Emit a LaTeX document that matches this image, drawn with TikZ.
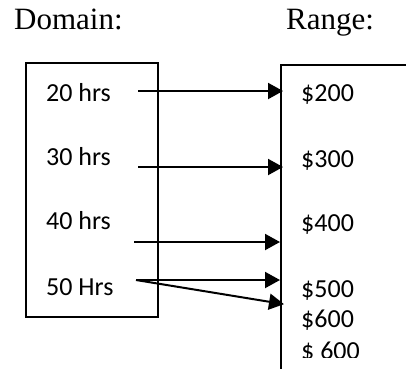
\documentclass[tikz,border=0pt]{standalone}
\usepackage{fontspec}
\setmainfont{Liberation Serif}
\newfontfamily\calib{Carlito}
\usetikzlibrary{arrows.meta}
\begin{document}
\begin{tikzpicture}[x=1pt,y=-1pt,
  head/.style={font=\fontsize{31}{35}\selectfont, anchor=base west, inner sep=0pt},
  item/.style={font=\calib\fontsize{26}{30}\selectfont, anchor=base west, inner sep=0pt},
  box/.style={draw, line width=2pt},
  arr/.style={line width=2pt, -{Triangle[length=15pt,width=16pt]}, shorten >=-1pt}]
\useasboundingbox (0,0) rectangle (406,368);
\clip (0,0) rectangle (406,368);
% headings
\node[head] (dom) at (14,29) {Domain:};
\node[head] (rng) at (286,29) {Range:};
% boxes
\draw[box] (26,63) rectangle (158,317);
\coordinate (rb1) at (281,370);
\coordinate (rb2) at (281,65);
\coordinate (rb3) at (410,65);
\draw[box] (rb1) -- (rb2) -- (rb3);
% domain items
\node[item] (d20) at (46,101) {20 hrs};
\node[item] (d30) at (46,165) {30 hrs};
\node[item] (d40) at (46,229) {40 hrs};
\node[item] (d50) at (46,295) {50 Hrs};
% range items
\node[item] (r200) at (301,101) {\$200};
\node[item] (r300) at (301,167) {\$300};
\node[item] (r400) at (301,231) {\$400};
\node[item] (r500) at (301,297) {\$500};
\node[item] (r600) at (301,327) {\$600};
\begin{scope}
\clip (285,332) rectangle (406,357.5);
\node[item] (r600b) at (301,359.5) {\$ 600};
\end{scope}
% arrow ends
\coordinate (s1) at (138,91);  \coordinate (e1) at (282,91);
\coordinate (s2) at (138,167); \coordinate (e2) at (282,167);
\coordinate (s3) at (134,242); \coordinate (e3) at (279,242);
\coordinate (s4) at (136,280); \coordinate (e4) at (279,280);
\coordinate (e5) at (283,304);
\draw[arr] (s1) -- (e1);
\draw[arr] (s2) -- (e2);
\draw[arr] (s3) -- (e3);
\draw[arr] (s4) -- (e4);
\draw[arr] (s4) -- (e5);
\end{tikzpicture}
\end{document}
